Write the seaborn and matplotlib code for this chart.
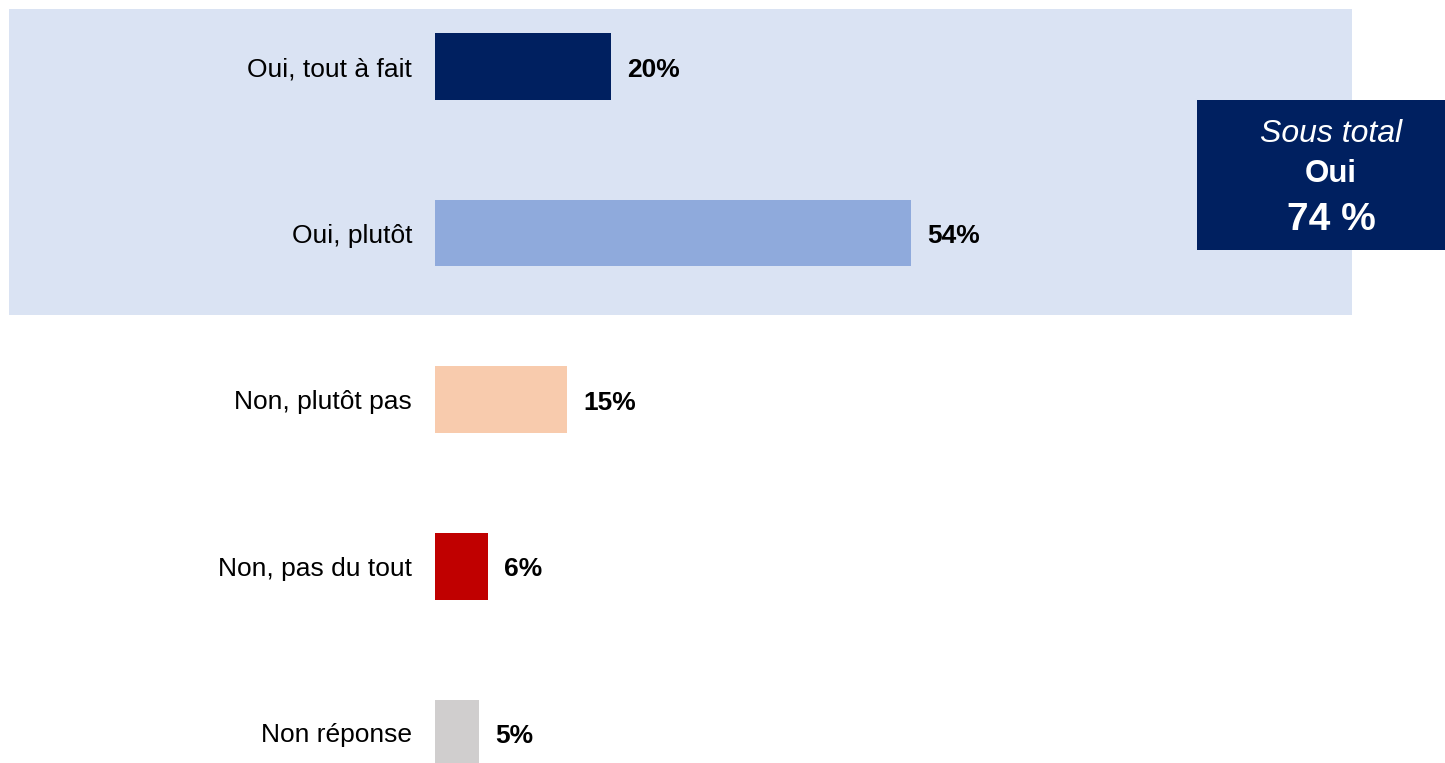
import matplotlib
matplotlib.use("Agg")
import matplotlib.pyplot as plt
from matplotlib.patches import Rectangle
import seaborn as sns
import pandas as pd

categories = ["Oui, tout à fait", "Oui, plutôt", "Non, plutôt pas", "Non, pas du tout", "Non réponse"]
values = [20, 54, 15, 6, 5]
colors = ["#002060", "#8FAADC", "#F8CBAD", "#C00000", "#D0CECE"]
subtotal_label = ["Sous total", "Oui", "74 %"]

sns.set_theme(style="white")
plt.rcParams["font.family"] = ["Liberation Sans", "DejaVu Sans"]

W, H = 1445, 763
fig = plt.figure(figsize=(W / 100, H / 100), dpi=100)
fig.patch.set_facecolor("white")

def px(x0, y0, x1, y1):
    """Figure-fraction rect from pixel box (top-left origin)."""
    return (x0 / W, 1 - y1 / H, (x1 - x0) / W, (y1 - y0) / H)

# Light band behind the "Oui" answers
band = px(9, 9, 1352, 315)
fig.patches.append(Rectangle(band[:2], band[2], band[3],
                             transform=fig.transFigure, facecolor="#DAE3F3",
                             edgecolor="none", zorder=-5))

# Axes: data x=0 at pixel 435, 8.815 px per percent
x_left = 435
ppu = 476 / 54
ax = fig.add_axes(px(x_left, 0, W, H))
ax.set_facecolor("none")
ax.set_zorder(1)

df = pd.DataFrame({"cat": categories, "val": values})
sns.barplot(data=df, x="val", y="cat", hue="cat", palette=colors, orient="h",
            width=0.4, legend=False, ax=ax, saturation=1,
            edgecolor="none", linewidth=0)

row_h = 166.6
y0c = 66.5
ax.set_ylim((H - y0c) / row_h, -y0c / row_h)
ax.set_xlim(0, (W - x_left) / ppu)

for i, v in enumerate(values):
    ax.annotate(f"{v}%", xy=(v, i), xytext=(11.5, -7.3), textcoords="offset points",
                ha="left", va="baseline", fontsize=19, fontweight="bold", color="black")

ax.set_xlabel("")
ax.set_ylabel("")
ax.set_xticks([])
ax.tick_params(axis="y", length=0, pad=16.5, labelsize=19, labelcolor="black")
for s in ax.spines.values():
    s.set_visible(False)

# Subtotal box
bx = px(1197, 100, 1445, 250)
box_ax = fig.add_axes(bx)
box_ax.set_zorder(3)
box_ax.set_facecolor("#002060")
box_ax.set_xticks([])
box_ax.set_yticks([])
for s in box_ax.spines.values():
    s.set_visible(False)

cx = 1331 / W
fig.text(cx, 1 - 142 / H, subtotal_label[0], ha="center", va="baseline",
         fontsize=23, fontstyle="italic", color="white", zorder=10)
fig.text(cx, 1 - 182 / H, subtotal_label[1], ha="center", va="baseline",
         fontsize=22.5, fontweight="bold", color="white", zorder=10)
fig.text(cx, 1 - 230 / H, subtotal_label[2], ha="center", va="baseline",
         fontsize=28, fontweight="bold", color="white", zorder=10)

fig.savefig("out.png", dpi=100)
